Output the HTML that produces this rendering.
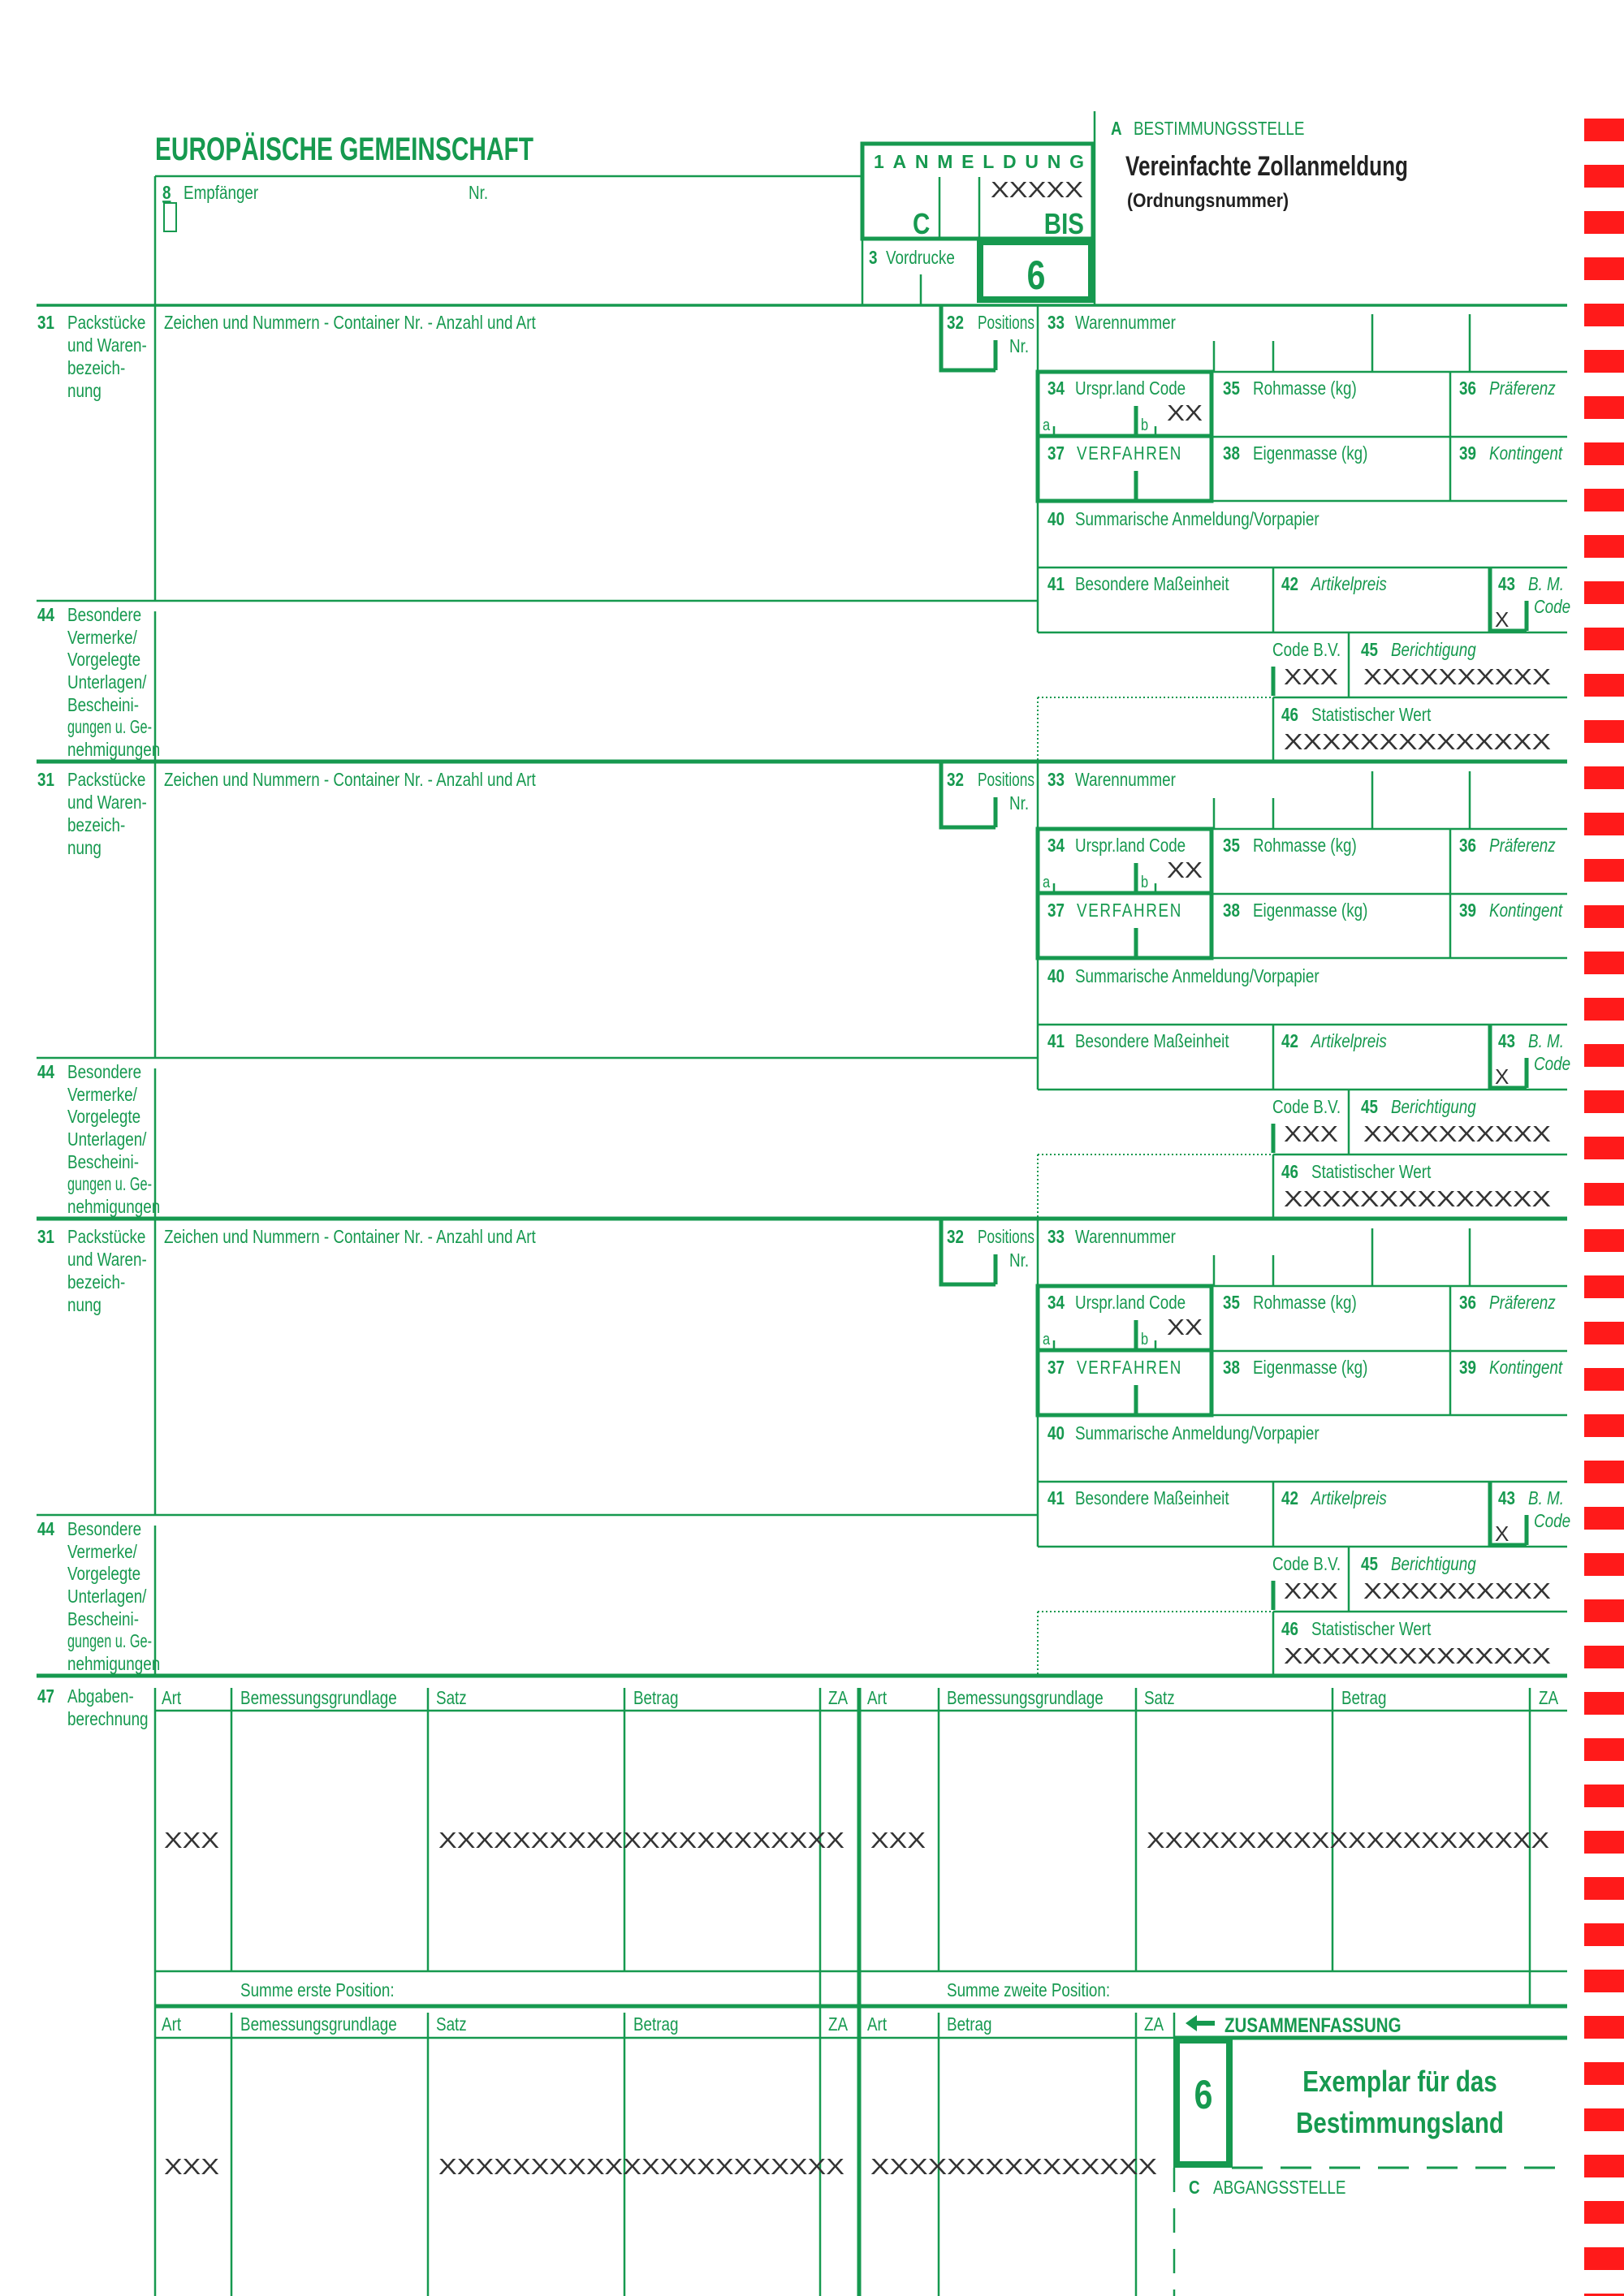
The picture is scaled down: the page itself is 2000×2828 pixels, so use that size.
<!DOCTYPE html>
<html><head><meta charset="utf-8">
<style>
html,body{margin:0;padding:0;background:#fff;}
svg{display:block;}
text{font-family:"Liberation Sans Narrow","Liberation Sans",sans-serif;fill:#16994f;font-size:23px;transform-box:fill-box;transform-origin:0 0;transform:scaleX(.82);}
.n,.x{transform:none;}
.m{transform-origin:50% 0;}
.e{transform-origin:100% 0;}
.b{font-weight:bold;}
.i{font-style:italic;}
.x{fill:#333;font-family:"Liberation Sans",sans-serif;font-size:28px;}
.l{stroke:#16994f;stroke-width:2.5;fill:none;}
.t{stroke:#16994f;stroke-width:5;fill:none;}
.d{stroke:#16994f;stroke-width:2;fill:none;stroke-dasharray:2 3;}
.v{letter-spacing:2px;}
</style></head><body>
<svg width="2000" height="2828" viewBox="0 0 2000 2828" xmlns="http://www.w3.org/2000/svg">
<g fill="#ff1a1a">
<rect x="1951" y="146" width="49" height="28"/><rect x="1951" y="203" width="49" height="28"/><rect x="1951" y="260" width="49" height="28"/><rect x="1951" y="317" width="49" height="28"/><rect x="1951" y="374" width="49" height="28"/><rect x="1951" y="431" width="49" height="28"/><rect x="1951" y="488" width="49" height="28"/><rect x="1951" y="545" width="49" height="28"/><rect x="1951" y="602" width="49" height="28"/><rect x="1951" y="659" width="49" height="28"/><rect x="1951" y="716" width="49" height="28"/><rect x="1951" y="773" width="49" height="28"/><rect x="1951" y="830" width="49" height="28"/><rect x="1951" y="887" width="49" height="28"/><rect x="1951" y="944" width="49" height="28"/><rect x="1951" y="1001" width="49" height="28"/><rect x="1951" y="1058" width="49" height="28"/><rect x="1951" y="1115" width="49" height="28"/><rect x="1951" y="1172" width="49" height="28"/><rect x="1951" y="1229" width="49" height="28"/><rect x="1951" y="1286" width="49" height="28"/><rect x="1951" y="1343" width="49" height="28"/><rect x="1951" y="1400" width="49" height="28"/><rect x="1951" y="1457" width="49" height="28"/><rect x="1951" y="1514" width="49" height="28"/><rect x="1951" y="1571" width="49" height="28"/><rect x="1951" y="1628" width="49" height="28"/><rect x="1951" y="1685" width="49" height="28"/><rect x="1951" y="1742" width="49" height="28"/><rect x="1951" y="1799" width="49" height="28"/><rect x="1951" y="1856" width="49" height="28"/><rect x="1951" y="1913" width="49" height="28"/><rect x="1951" y="1970" width="49" height="28"/><rect x="1951" y="2027" width="49" height="28"/><rect x="1951" y="2084" width="49" height="28"/><rect x="1951" y="2141" width="49" height="28"/><rect x="1951" y="2198" width="49" height="28"/><rect x="1951" y="2255" width="49" height="28"/><rect x="1951" y="2312" width="49" height="28"/><rect x="1951" y="2369" width="49" height="28"/><rect x="1951" y="2426" width="49" height="28"/><rect x="1951" y="2483" width="49" height="28"/><rect x="1951" y="2540" width="49" height="28"/><rect x="1951" y="2597" width="49" height="28"/><rect x="1951" y="2654" width="49" height="28"/><rect x="1951" y="2711" width="49" height="28"/><rect x="1951" y="2768" width="49" height="28"/><rect x="1951" y="2825" width="49" height="28"/>
</g>

<text x="191" y="197" class="b n" style="font-size:40px" textLength="466" lengthAdjust="spacingAndGlyphs">EUROPÄISCHE GEMEINSCHAFT</text>
<path class="l" d="M191 217 H1062 M191 217 V376 M1348 137 V376 M1062 293 V376 M1134 338 V376 M1157 218 V293 M1206 218 V293"/>
<rect x="202" y="250" width="15" height="35" class="l" style="stroke-width:2"/>
<text x="200" y="245" class="b" text-decoration="underline">8</text><text x="226" y="245">Empfänger</text>
<text x="577" y="245">Nr.</text>
<rect x="1062" y="177" width="284" height="117" class="t"/>
<path class="t" d="M1062 294 H1346"/>
<rect x="1207" y="298" width="137" height="71" class="t" style="stroke-width:8"/>
<text x="1076" y="207" class="b n" textLength="259" lengthAdjust="spacing" style="font-size:23px">1ANMELDUNG</text>
<text x="1220" y="243" class="x" textLength="114" lengthAdjust="spacingAndGlyphs">XXXXX</text>
<text x="1124" y="288" class="b" style="font-size:36px">C</text>
<text x="1335" y="288" class="b e" text-anchor="end" style="font-size:36px">BIS</text>
<text x="1070" y="325" class="b">3</text><text x="1091" y="325">Vordrucke</text>
<text x="1276" y="356" class="b m" text-anchor="middle" style="font-size:50px">6</text>
<text x="1368" y="166" class="b">A</text><text x="1396" y="166">BESTIMMUNGSSTELLE</text>
<text x="1386" y="216" class="b n" style="fill:#222;font-size:34px" textLength="348" lengthAdjust="spacingAndGlyphs">Vereinfachte Zollanmeldung</text>
<text x="1388" y="255" class="b n" style="fill:#222;font-size:24px" textLength="199" lengthAdjust="spacingAndGlyphs">(Ordnungsnummer)</text>
<path class="l" d="M45 376 H1930" style="stroke-width:3.5"/>

<g>
<path class="l" d="M191 376 V740 M191 753 V938 M45 740 H1278 M1278 376 V779 M1278 458 H1930 M1495 420 V458 M1568 420 V458 M1690 387 V458 M1810 387 V458 M1786 458 V617 M1493 538 H1930 M1278 617 H1930 M1278 699 H1930 M1278 779 H1930 M1568 699 V779 M1661 779 V859 M1568 859 H1930 M1568 859 V937 M1298 525 V537 M1423 525 V537"/>
<path class="t" d="M1159 376 V456 H1226 M1226 419 V456 M1399 500 V537 M1399 580 V617 M1835 699 V777 H1880 M1880 740 V777 M1568 821 V857"/>
<rect x="1278" y="458" width="214" height="159" class="t"/>
<path class="t" d="M1278 537 H1492"/>
<path class="d" d="M1278 859 H1568 M1278 859 V937"/>
<path class="t" d="M45 938 H1930"/>
<text x="46" y="405" class="b">31</text><text x="83" y="405">Packstücke</text><text x="83" y="433">und Waren-</text><text x="83" y="461">bezeich-</text><text x="83" y="489">nung</text>
<text x="202" y="405">Zeichen und Nummern - Container Nr. - Anzahl und Art</text>
<text x="1166" y="405" class="b">32</text><text x="1204" y="405" class="n" textLength="70" lengthAdjust="spacingAndGlyphs">Positions</text><text x="1243" y="434">Nr.</text>
<text x="1290" y="405" class="b">33</text><text x="1324" y="405">Warennummer</text>
<text x="1290" y="486" class="b">34</text><text x="1324" y="486">Urspr.land Code</text>
<text x="1284" y="530" style="font-size:20px">a</text><text x="1405" y="530" style="font-size:20px">b</text>
<text x="1437" y="518" class="x" textLength="44" lengthAdjust="spacingAndGlyphs">XX</text>
<text x="1506" y="486" class="b">35</text><text x="1543" y="486">Rohmasse (kg)</text>
<text x="1797" y="486" class="b">36</text><text x="1834" y="486" class="i">Präferenz</text>
<text x="1290" y="566" class="b">37</text><text x="1326" y="566" class="v">VERFAHREN</text>
<text x="1506" y="566" class="b">38</text><text x="1543" y="566">Eigenmasse (kg)</text>
<text x="1797" y="566" class="b">39</text><text x="1834" y="566" class="i">Kontingent</text>
<text x="1290" y="647" class="b">40</text><text x="1324" y="647">Summarische Anmeldung/Vorpapier</text>
<text x="1290" y="727" class="b">41</text><text x="1324" y="727">Besondere Maßeinheit</text>
<text x="1578" y="727" class="b">42</text><text x="1615" y="727" class="i">Artikelpreis</text>
<text x="1845" y="727" class="b">43</text><text x="1882" y="727" class="i">B. M.</text><text x="1889" y="755" class="i">Code</text>
<text x="1841" y="772" class="x" style="font-size:26px">X</text>
<text x="1567" y="808">Code B.V.</text>
<text x="1676" y="808" class="b">45</text><text x="1713" y="808" class="i">Berichtigung</text>
<text x="1581" y="843" class="x" textLength="67" lengthAdjust="spacingAndGlyphs">XXX</text>
<text x="1679" y="843" class="x" textLength="231" lengthAdjust="spacingAndGlyphs">XXXXXXXXXX</text>
<text x="1578" y="888" class="b">46</text><text x="1615" y="888">Statistischer Wert</text>
<text x="1581" y="923" class="x" textLength="329" lengthAdjust="spacingAndGlyphs">XXXXXXXXXXXXXX</text>
<text x="46" y="765" class="b">44</text><text x="83" y="765">Besondere</text><text x="83" y="793">Vermerke/</text><text x="83" y="820">Vorgelegte</text><text x="83" y="848">Unterlagen/</text><text x="83" y="876">Bescheini-</text><text x="83" y="903" class="n" textLength="104" lengthAdjust="spacingAndGlyphs">gungen u. Ge-</text><text x="83" y="931">nehmigungen</text>
</g>

<g transform="translate(0,563)">
<path class="l" d="M191 376 V740 M191 753 V938 M45 740 H1278 M1278 376 V779 M1278 458 H1930 M1495 420 V458 M1568 420 V458 M1690 387 V458 M1810 387 V458 M1786 458 V617 M1493 538 H1930 M1278 617 H1930 M1278 699 H1930 M1278 779 H1930 M1568 699 V779 M1661 779 V859 M1568 859 H1930 M1568 859 V937 M1298 525 V537 M1423 525 V537"/>
<path class="t" d="M1159 376 V456 H1226 M1226 419 V456 M1399 500 V537 M1399 580 V617 M1835 699 V777 H1880 M1880 740 V777 M1568 821 V857"/>
<rect x="1278" y="458" width="214" height="159" class="t"/>
<path class="t" d="M1278 537 H1492"/>
<path class="d" d="M1278 859 H1568 M1278 859 V937"/>
<path class="t" d="M45 938 H1930"/>
<text x="46" y="405" class="b">31</text><text x="83" y="405">Packstücke</text><text x="83" y="433">und Waren-</text><text x="83" y="461">bezeich-</text><text x="83" y="489">nung</text>
<text x="202" y="405">Zeichen und Nummern - Container Nr. - Anzahl und Art</text>
<text x="1166" y="405" class="b">32</text><text x="1204" y="405" class="n" textLength="70" lengthAdjust="spacingAndGlyphs">Positions</text><text x="1243" y="434">Nr.</text>
<text x="1290" y="405" class="b">33</text><text x="1324" y="405">Warennummer</text>
<text x="1290" y="486" class="b">34</text><text x="1324" y="486">Urspr.land Code</text>
<text x="1284" y="530" style="font-size:20px">a</text><text x="1405" y="530" style="font-size:20px">b</text>
<text x="1437" y="518" class="x" textLength="44" lengthAdjust="spacingAndGlyphs">XX</text>
<text x="1506" y="486" class="b">35</text><text x="1543" y="486">Rohmasse (kg)</text>
<text x="1797" y="486" class="b">36</text><text x="1834" y="486" class="i">Präferenz</text>
<text x="1290" y="566" class="b">37</text><text x="1326" y="566" class="v">VERFAHREN</text>
<text x="1506" y="566" class="b">38</text><text x="1543" y="566">Eigenmasse (kg)</text>
<text x="1797" y="566" class="b">39</text><text x="1834" y="566" class="i">Kontingent</text>
<text x="1290" y="647" class="b">40</text><text x="1324" y="647">Summarische Anmeldung/Vorpapier</text>
<text x="1290" y="727" class="b">41</text><text x="1324" y="727">Besondere Maßeinheit</text>
<text x="1578" y="727" class="b">42</text><text x="1615" y="727" class="i">Artikelpreis</text>
<text x="1845" y="727" class="b">43</text><text x="1882" y="727" class="i">B. M.</text><text x="1889" y="755" class="i">Code</text>
<text x="1841" y="772" class="x" style="font-size:26px">X</text>
<text x="1567" y="808">Code B.V.</text>
<text x="1676" y="808" class="b">45</text><text x="1713" y="808" class="i">Berichtigung</text>
<text x="1581" y="843" class="x" textLength="67" lengthAdjust="spacingAndGlyphs">XXX</text>
<text x="1679" y="843" class="x" textLength="231" lengthAdjust="spacingAndGlyphs">XXXXXXXXXX</text>
<text x="1578" y="888" class="b">46</text><text x="1615" y="888">Statistischer Wert</text>
<text x="1581" y="923" class="x" textLength="329" lengthAdjust="spacingAndGlyphs">XXXXXXXXXXXXXX</text>
<text x="46" y="765" class="b">44</text><text x="83" y="765">Besondere</text><text x="83" y="793">Vermerke/</text><text x="83" y="820">Vorgelegte</text><text x="83" y="848">Unterlagen/</text><text x="83" y="876">Bescheini-</text><text x="83" y="903" class="n" textLength="104" lengthAdjust="spacingAndGlyphs">gungen u. Ge-</text><text x="83" y="931">nehmigungen</text>
</g>

<g transform="translate(0,1126)">
<path class="l" d="M191 376 V740 M191 753 V938 M45 740 H1278 M1278 376 V779 M1278 458 H1930 M1495 420 V458 M1568 420 V458 M1690 387 V458 M1810 387 V458 M1786 458 V617 M1493 538 H1930 M1278 617 H1930 M1278 699 H1930 M1278 779 H1930 M1568 699 V779 M1661 779 V859 M1568 859 H1930 M1568 859 V937 M1298 525 V537 M1423 525 V537"/>
<path class="t" d="M1159 376 V456 H1226 M1226 419 V456 M1399 500 V537 M1399 580 V617 M1835 699 V777 H1880 M1880 740 V777 M1568 821 V857"/>
<rect x="1278" y="458" width="214" height="159" class="t"/>
<path class="t" d="M1278 537 H1492"/>
<path class="d" d="M1278 859 H1568 M1278 859 V937"/>
<path class="t" d="M45 938 H1930"/>
<text x="46" y="405" class="b">31</text><text x="83" y="405">Packstücke</text><text x="83" y="433">und Waren-</text><text x="83" y="461">bezeich-</text><text x="83" y="489">nung</text>
<text x="202" y="405">Zeichen und Nummern - Container Nr. - Anzahl und Art</text>
<text x="1166" y="405" class="b">32</text><text x="1204" y="405" class="n" textLength="70" lengthAdjust="spacingAndGlyphs">Positions</text><text x="1243" y="434">Nr.</text>
<text x="1290" y="405" class="b">33</text><text x="1324" y="405">Warennummer</text>
<text x="1290" y="486" class="b">34</text><text x="1324" y="486">Urspr.land Code</text>
<text x="1284" y="530" style="font-size:20px">a</text><text x="1405" y="530" style="font-size:20px">b</text>
<text x="1437" y="518" class="x" textLength="44" lengthAdjust="spacingAndGlyphs">XX</text>
<text x="1506" y="486" class="b">35</text><text x="1543" y="486">Rohmasse (kg)</text>
<text x="1797" y="486" class="b">36</text><text x="1834" y="486" class="i">Präferenz</text>
<text x="1290" y="566" class="b">37</text><text x="1326" y="566" class="v">VERFAHREN</text>
<text x="1506" y="566" class="b">38</text><text x="1543" y="566">Eigenmasse (kg)</text>
<text x="1797" y="566" class="b">39</text><text x="1834" y="566" class="i">Kontingent</text>
<text x="1290" y="647" class="b">40</text><text x="1324" y="647">Summarische Anmeldung/Vorpapier</text>
<text x="1290" y="727" class="b">41</text><text x="1324" y="727">Besondere Maßeinheit</text>
<text x="1578" y="727" class="b">42</text><text x="1615" y="727" class="i">Artikelpreis</text>
<text x="1845" y="727" class="b">43</text><text x="1882" y="727" class="i">B. M.</text><text x="1889" y="755" class="i">Code</text>
<text x="1841" y="772" class="x" style="font-size:26px">X</text>
<text x="1567" y="808">Code B.V.</text>
<text x="1676" y="808" class="b">45</text><text x="1713" y="808" class="i">Berichtigung</text>
<text x="1581" y="843" class="x" textLength="67" lengthAdjust="spacingAndGlyphs">XXX</text>
<text x="1679" y="843" class="x" textLength="231" lengthAdjust="spacingAndGlyphs">XXXXXXXXXX</text>
<text x="1578" y="888" class="b">46</text><text x="1615" y="888">Statistischer Wert</text>
<text x="1581" y="923" class="x" textLength="329" lengthAdjust="spacingAndGlyphs">XXXXXXXXXXXXXX</text>
<text x="46" y="765" class="b">44</text><text x="83" y="765">Besondere</text><text x="83" y="793">Vermerke/</text><text x="83" y="820">Vorgelegte</text><text x="83" y="848">Unterlagen/</text><text x="83" y="876">Bescheini-</text><text x="83" y="903" class="n" textLength="104" lengthAdjust="spacingAndGlyphs">gungen u. Ge-</text><text x="83" y="931">nehmigungen</text>
</g>

<path class="l" d="M191 2079 V2828 M1010 2079 V2828 M285 2079 V2428 M527 2079 V2428 M769 2079 V2428 M1156 2079 V2428 M1399 2079 V2428 M1641 2079 V2428 M1884 2079 V2471 M191 2107 H1930 M191 2428 H1930 M285 2479 V2828 M527 2479 V2828 M769 2479 V2828 M1156 2479 V2828 M1399 2479 V2828 M1446 2479 V2510 M191 2510 H1446"/>
<path class="t" d="M1058 2079 V2828 M191 2471 H1930 M1446 2510 H1930"/>
<text x="46" y="2097" class="b">47</text><text x="83" y="2097">Abgaben-</text><text x="83" y="2125">berechnung</text>
<text x="199" y="2099">Art</text><text x="296" y="2099">Bemessungsgrundlage</text><text x="537" y="2099">Satz</text><text x="780" y="2099">Betrag</text><text x="1020" y="2099">ZA</text>
<text x="1068" y="2099">Art</text><text x="1166" y="2099">Bemessungsgrundlage</text><text x="1409" y="2099">Satz</text><text x="1652" y="2099">Betrag</text><text x="1895" y="2099">ZA</text>
<text x="202" y="2276" class="x" textLength="68" lengthAdjust="spacingAndGlyphs">XXX</text>
<text x="540" y="2276" class="x" textLength="500" lengthAdjust="spacingAndGlyphs">XXXXXXXXXXXXXXXXXXXXXX</text>
<text x="1072" y="2276" class="x" textLength="68" lengthAdjust="spacingAndGlyphs">XXX</text>
<text x="1412" y="2276" class="x" textLength="496" lengthAdjust="spacingAndGlyphs">XXXXXXXXXXXXXXXXXXXXXX</text>
<text x="296" y="2459">Summe erste Position:</text>
<text x="1166" y="2459">Summe zweite Position:</text>
<text x="199" y="2501">Art</text><text x="296" y="2501">Bemessungsgrundlage</text><text x="537" y="2501">Satz</text><text x="780" y="2501">Betrag</text><text x="1020" y="2501">ZA</text>
<text x="1068" y="2501">Art</text><text x="1166" y="2501">Betrag</text><text x="1409" y="2501">ZA</text>
<text x="202" y="2678" class="x" textLength="68" lengthAdjust="spacingAndGlyphs">XXX</text>
<text x="540" y="2678" class="x" textLength="500" lengthAdjust="spacingAndGlyphs">XXXXXXXXXXXXXXXXXXXXXX</text>
<text x="1072" y="2678" class="x" textLength="353" lengthAdjust="spacingAndGlyphs">XXXXXXXXXXXXXXX</text>
<path d="M1460 2492 L1474 2482 L1474 2489 L1496 2489 L1496 2495 L1474 2495 L1474 2502 Z" fill="#16994f"/>
<text x="1508" y="2503" class="b" style="font-size:25px">ZUSAMMENFASSUNG</text>
<rect x="1449" y="2513" width="65" height="153" class="t" style="stroke-width:8"/>
<text x="1482" y="2597" class="b m" text-anchor="middle" style="font-size:50px">6</text>
<text x="1724" y="2576" class="b m" text-anchor="middle" style="font-size:36px">Exemplar für das</text>
<text x="1724" y="2627" class="b m" text-anchor="middle" style="font-size:36px">Bestimmungsland</text>
<path class="l" d="M1517 2670 H1932" style="stroke-width:3;stroke-dasharray:38 22"/>
<path class="l" d="M1446 2670 V2828" style="stroke-dasharray:30 20"/>
<text x="1464" y="2702" class="b">C</text><text x="1494" y="2702">ABGANGSSTELLE</text>
</svg>
</body></html>
